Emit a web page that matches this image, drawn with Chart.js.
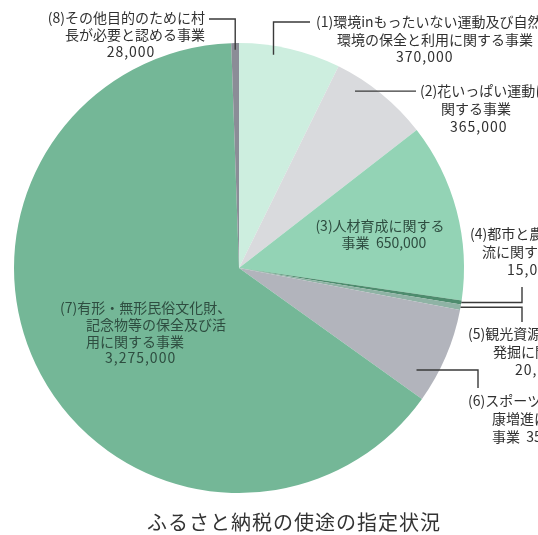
<!DOCTYPE html>
<html lang="ja">
<head>
<meta charset="utf-8">
<title>ふるさと納税の使途の指定状況</title>
<script src="https://cdn.jsdelivr.net/npm/chart.js@4.4.1/dist/chart.umd.min.js"></script>
<style>
    html, body { margin: 0; padding: 0; background: #ffffff; }
    #chart { display: block; }
</style>
</head>
<body>
<canvas id="chart" width="538" height="535"></canvas>
<script>
// Use categories of the hometown tax donations (yen)
const categories = ['(1)', '(2)', '(3)', '(4)', '(5)', '(6)', '(7)', '(8)'];
const amounts = [370000, 365000, 650000, 15000, 20000, 350000, 3275000, 28000];
const sliceColors = ['#cdeedf', '#d9dadd', '#93d3b5', '#4e8c6e', '#8fb3a5', '#b2b4bc', '#74b797', '#8b8d97'];
const chartTitle = 'ふるさと納税の使途の指定状況';

// Label text for each slice (lines)
const labelLines = [
    ['(1)環境inもったいない運動及び自然', '環境の保全と利用に関する事業', '370,000'],
    ['(2)花いっぱい運動に', '関する事業', '365,000'],
    ['(3)人材育成に関する', '事業  650,000'],
    ['(4)都市と農村の交', '流に関する事業', '15,000'],
    ['(5)観光資源の', '発掘に関する事業', '20,000'],
    ['(6)スポーツ・健', '康増進に関する', '事業  350,000'],
    ['(7)有形・無形民俗文化財、', '記念物等の保全及び活', '用に関する事業', '3,275,000'],
    ['(8)その他目的のために村', '長が必要と認める事業', '28,000']
];

// Where the text sits and how the leader line runs (annotation layout)
const labelLayout = [
    { lines: [[316, 22, 'left'], [337, 40, 'left'], [396, 57, 'left']],
      leader: { at: [0.35, 0.96], kind: 'vh', x: 310, y: 22 } },
    { lines: [[420, 91, 'left'], [441, 109, 'left'], [450, 127, 'left']],
      leader: { at: [0.27, 0.94], kind: 'h', x: 416 } },
    { lines: [[380, 226, 'center'], [384, 243, 'center']], color: '#2e4d40' },
    { lines: [[470, 234, 'left'], [482, 252, 'left'], [507, 270, 'left']],
      leader: { at: [0.5, 1.0], kind: 'hv', x: 522, y: 287 } },
    { lines: [[468, 334, 'left'], [493, 352, 'left'], [515, 370, 'left']],
      leader: { at: [0.5, 1.0], kind: 'hv', x: 522, y: 322 } },
    { lines: [[468, 401, 'left'], [492, 419, 'left'], [492, 437, 'left']],
      leader: { at: [0.77, 0.91], kind: 'hv', x: 478, y: 388 } },
    { lines: [[60, 308, 'left'], [86, 325, 'left'], [86, 342, 'left'], [105, 358, 'left']], color: '#2e4d40' },
    { lines: [[205, 18, 'right'], [205, 35, 'right'], [131, 52, 'center']],
      leader: { at: [0.5, 0.97], kind: 'vh', x: 209, y: 19 } }
];

const isNumber = (s) => /^[0-9,]+$/.test(s);

const labelPlugin = {
    id: 'sliceLabels',
    afterDraw(chart) {
        const ctx = chart.ctx;
        const arcs = chart.getDatasetMeta(0).data;
        ctx.save();
        labelLayout.forEach((lay, i) => {
            const arc = arcs[i];
            // Leader line start point taken from the arc geometry
            if (lay.leader) {
                const a = arc.startAngle + (arc.endAngle - arc.startAngle) * lay.leader.at[0];
                const r = arc.outerRadius * lay.leader.at[1];
                const ex = arc.x + Math.cos(a) * r;
                const ey = arc.y + Math.sin(a) * r;
                ctx.strokeStyle = '#3a3a3a';
                ctx.lineWidth = 1.4;
                ctx.beginPath();
                if (lay.leader.kind === 'h') {
                    ctx.moveTo(ex, ey);
                    ctx.lineTo(lay.leader.x, ey);
                } else if (lay.leader.kind === 'hv') {
                    ctx.moveTo(ex, ey);
                    ctx.lineTo(lay.leader.x, ey);
                    ctx.lineTo(lay.leader.x, lay.leader.y);
                } else {
                    ctx.moveTo(lay.leader.x, lay.leader.y);
                    ctx.lineTo(ex, lay.leader.y);
                    ctx.lineTo(ex, ey);
                }
                ctx.stroke();
            }
            // Text
            ctx.fillStyle = lay.color || '#303030';
            ctx.textBaseline = 'middle';
            labelLines[i].forEach((txt, k) => {
                const [x, y, align] = lay.lines[k];
                ctx.textAlign = align;
                if (isNumber(txt)) {
                    ctx.font = '14px "Noto Sans CJK JP", "Noto Sans", sans-serif';
                    ctx.letterSpacing = '1px';
                } else {
                    ctx.font = '14px "Noto Sans CJK JP", sans-serif';
                    ctx.letterSpacing = '0px';
                }
                ctx.fillText(txt, x, y);
            });
        });
        // Caption under the pie
        ctx.fillStyle = '#333333';
        ctx.font = '20px "Noto Sans CJK JP", sans-serif';
        ctx.letterSpacing = '1px';
        ctx.textAlign = 'center';
        ctx.textBaseline = 'middle';
        ctx.fillText(chartTitle, 294, 522);
        ctx.restore();
    }
};

const chartConfig = {
    type: 'pie',
    data: {
        labels: categories,
        datasets: [{
            data: amounts,
            backgroundColor: sliceColors,
            borderWidth: 0
        }]
    },
    options: {
        responsive: false,
        animation: false,
        layout: { padding: { left: 14, top: 43, right: 74, bottom: 42 } },
        plugins: {
            legend: { display: false },
            tooltip: { enabled: false },
            title: { display: false }
        }
    },
    plugins: [labelPlugin]
};

try {
    const canvas = document.getElementById('chart');
    new Chart(canvas.getContext('2d'), chartConfig);
} catch (error) {
    console.error('Error initializing chart:', error);
}
</script>
</body>
</html>
